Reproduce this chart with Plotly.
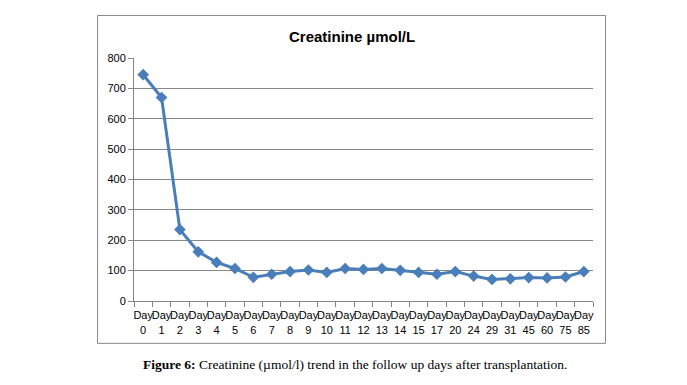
import plotly.graph_objects as go

days = ["0", "1", "2", "3", "4", "5", "6", "7", "8", "9", "10", "11", "12",
        "13", "14", "15", "17", "20", "24", "29", "31", "45", "60", "75", "85"]
creatinine = [745, 670, 235, 162, 127, 107, 78, 88, 97, 102, 94, 107, 104,
              107, 101, 94, 88, 97, 82, 71, 73, 77, 76, 79, 97]
tick_labels = ["Day<br>" + d for d in days]
categories = ["Day " + d for d in days]

OFF = 8  # page body margin
W, H = 687 - OFF, 385 - OFF
PL, PR, PT, PB = 133.5 - OFF, 593.5 - OFF, 58.0 - OFF, 300.7 - OFF  # plot area in pixels
pw, ph = PR - PL, PB - PT

def px_x(x):
    return (x - OFF - PL) / pw

def px_y(y):
    return (PB - (y - OFF)) / ph

fig = go.Figure()
fig.add_trace(go.Scatter(
    x=categories, y=creatinine, mode="lines+markers",
    line=dict(color="#4A7EBB", width=3),
    marker=dict(symbol="diamond", size=9, color="#4A7EBB"),
    showlegend=False,
))

fig.update_layout(
    width=W, height=H,
    margin=dict(l=PL, r=W - PR, t=PT, b=H - PB, pad=0),
    paper_bgcolor="white", plot_bgcolor="white",
    font=dict(family="Liberation Sans, Arial, sans-serif", size=11, color="black"),
    xaxis=dict(
        type="category", tickmode="array", tickvals=categories, ticktext=tick_labels,
        tickson="boundaries", ticks="outside", ticklen=5, tickcolor="#868686",
        showline=True, linecolor="#868686", linewidth=1, showgrid=False,
        tickfont=dict(family="Liberation Sans Narrow, Liberation Sans, Arial", size=11, color="#000"),
        tickangle=0, range=[-0.5, len(days) - 0.5], ticklabelstandoff=4,
    ),
    yaxis=dict(
        range=[0, 800], dtick=100, tick0=0,
        ticks="outside", ticklen=5, tickcolor="#868686",
        showline=True, linecolor="#868686", linewidth=1,
        showgrid=True, gridcolor="#868686", gridwidth=1, zeroline=False,
        tickfont=dict(size=11, color="#000"),
    ),
    shapes=[dict(
        type="rect", xref="paper", yref="paper",
        x0=px_x(97), x1=px_x(606), y0=px_y(343), y1=px_y(15.5),
        line=dict(color="#868686", width=1), fillcolor="rgba(0,0,0,0)", layer="below",
    )],
    annotations=[
        dict(text="<b>Creatinine µmol/L</b>", xref="paper", yref="paper",
             x=px_x(352), y=px_y(37), xanchor="center", yanchor="middle",
             showarrow=False, font=dict(size=15, family="Liberation Sans, Arial", color="#000")),
        dict(text="<b>Figure 6:</b> Creatinine (µmol/l) trend in the follow up days after transplantation.",
             xref="paper", yref="paper", x=px_x(355), y=px_y(364), xanchor="center", yanchor="middle",
             showarrow=False, font=dict(size=13.5, family="Liberation Serif, DejaVu Serif, serif", color="#000")),
    ],
)

fig.write_html("out.html")
